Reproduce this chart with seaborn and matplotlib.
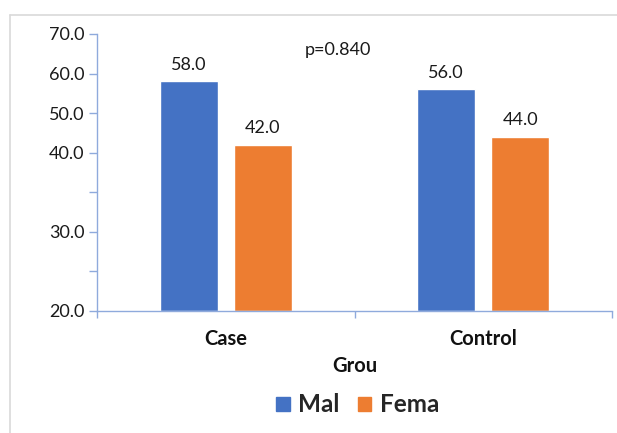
import numpy as np
import pandas as pd
import matplotlib
matplotlib.use("Agg")
import matplotlib.pyplot as plt
from matplotlib.lines import Line2D
import seaborn as sns

# data
groups = ["Case", "Control"]
sexes = ["Mal", "Fema"]
male_pct = [58.0, 56.0]
female_pct = [42.0, 44.0]
y_ticks = [0, 10, 20, 30, 40, 50, 60, 70]
y_tick_labels = ["20.0", "", "30.0", "", "40.0", "50.0", "60.0", "70.0"]
p_text = "p=0.840"

colors = ["#4472C4", "#ED7D31"]
axis_col = "#8FAADC"

df = pd.DataFrame({
    "group": groups * 2,
    "sex": [sexes[0]] * len(groups) + [sexes[1]] * len(groups),
    "pct": male_pct + female_pct,
})

sns.set_theme(style="white")
plt.rcParams["font.family"] = ["Lato", "DejaVu Sans"]

fig = plt.figure(figsize=(6.17, 4.33), dpi=100)
ax = fig.add_axes([97 / 617, 1 - 310.7 / 433, (612 - 97) / 617, (310.7 - 34) / 433])

sns.barplot(data=df, x="group", y="pct", hue="sex", hue_order=sexes,
            palette=colors, width=0.575, gap=0.216, ax=ax, legend=False,
            saturation=1, errorbar=None)

for cont in ax.containers:
    ax.bar_label(cont, fmt="%.1f", padding=6, fontsize=13, color="#1a1a1a")

ax.set_xlim(-0.5, 1.5)
ax.set_ylim(0, 70)
ax.set_yticks(y_ticks)
ax.set_yticklabels(y_tick_labels, fontsize=13, color="#1a1a1a")
ax.tick_params(axis="y", left=True, length=6, width=1, color=axis_col, pad=3)

ax.set_xticks([0, 1])
ax.set_xticklabels(groups, fontsize=14.5, fontweight="bold", color="#111111")
ax.set_xticks([-0.5, 0.5, 1.5], minor=True)
ax.tick_params(axis="x", which="major", bottom=False, pad=7)
ax.tick_params(axis="x", which="minor", bottom=True, length=5, width=1, color=axis_col)

ax.set_xlabel("Grou", fontsize=14.5, fontweight="bold", color="#111111", labelpad=5)
ax.set_ylabel("")

for s in ["top", "right"]:
    ax.spines[s].set_visible(False)
for s in ["left", "bottom"]:
    ax.spines[s].set_color(axis_col)
    ax.spines[s].set_linewidth(1)

ax.text(0.436, 66, p_text, ha="center", va="center", fontsize=13, color="#1a1a1a")

handles = [plt.Rectangle((0, 0), 1, 1, color=c) for c in colors]
fig.legend(handles, sexes, loc="center", bbox_to_anchor=(0.58, 1 - 405 / 433),
           ncol=2, frameon=False, handlelength=0.55, handleheight=0.55,
           handletextpad=0.35, columnspacing=0.75,
           prop={"size": 17.5, "weight": "bold"})

# chart-area border (left and top only visible)
fig.add_artist(Line2D([9.5 / 617, 9.5 / 617], [0, 1 - 14.5 / 433],
                      transform=fig.transFigure, color="#d9d9d9", lw=1.2))
fig.add_artist(Line2D([9.5 / 617, 1], [1 - 14.5 / 433, 1 - 14.5 / 433],
                      transform=fig.transFigure, color="#d9d9d9", lw=1.2))

fig.savefig("out.png", dpi=100)
